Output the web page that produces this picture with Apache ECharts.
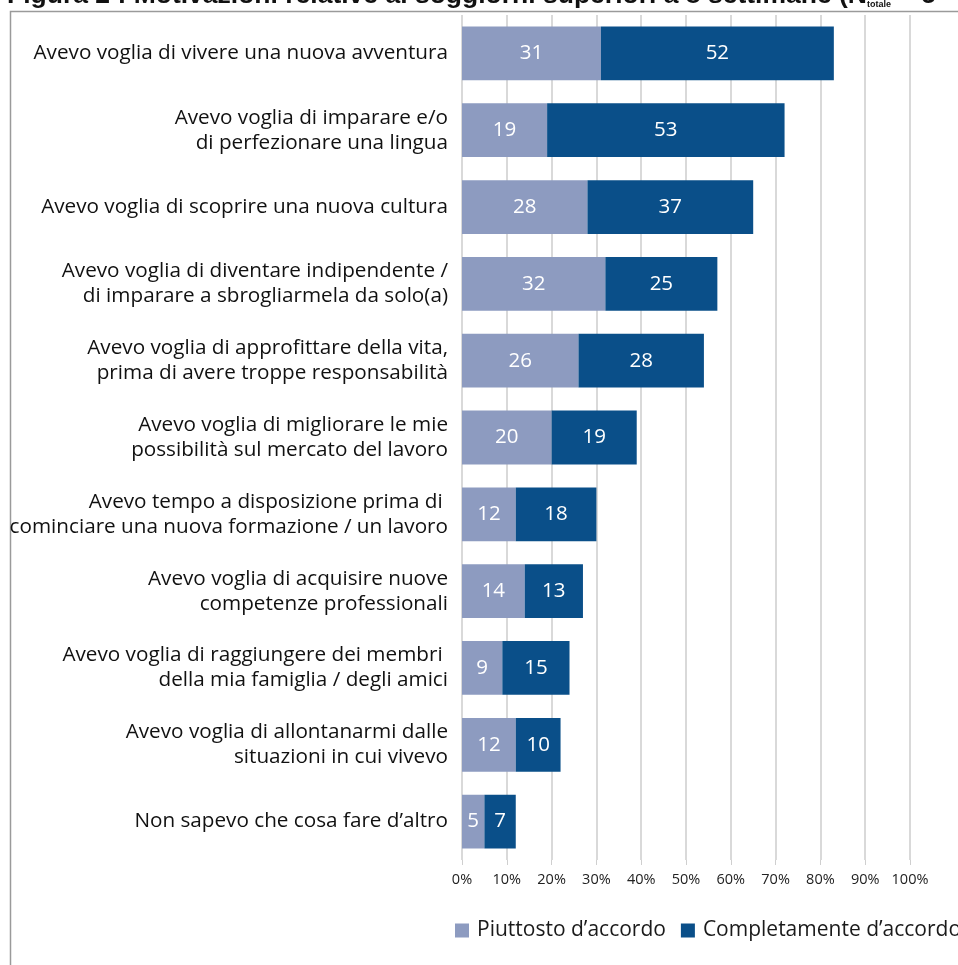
<!DOCTYPE html>
<html>
<head>
<meta charset="utf-8">
<script src="https://cdn.jsdelivr.net/npm/echarts@6/dist/echarts.min.js"></script>
<style>
  html, body { margin: 0; padding: 0; background: #fff; }
  #chart { width: 958px; height: 965px; }
</style>
</head>
<body>
<div id="chart"></div>
<script>
const categories = [
  "Avevo voglia di vivere una nuova avventura",
  "Avevo voglia di imparare e/o\ndi perfezionare una lingua",
  "Avevo voglia di scoprire una nuova cultura",
  "Avevo voglia di diventare indipendente /\ndi imparare a sbrogliarmela da solo(a)",
  "Avevo voglia di approfittare della vita,\nprima di avere troppe responsabilità",
  "Avevo voglia di migliorare le mie\npossibilità sul mercato del lavoro",
  "Avevo tempo a disposizione prima di \ncominciare una nuova formazione / un lavoro",
  "Avevo voglia di acquisire nuove\ncompetenze professionali",
  "Avevo voglia di raggiungere dei membri \ndella mia famiglia / degli amici",
  "Avevo voglia di allontanarmi dalle\nsituazioni in cui vivevo",
  "Non sapevo che cosa fare d’altro"
];
const piuttosto = [31, 19, 28, 32, 26, 20, 12, 14, 9, 12, 5];
const completamente = [52, 53, 37, 25, 28, 19, 18, 13, 15, 10, 7];
const xTicks = [0, 10, 20, 30, 40, 50, 60, 70, 80, 90, 100];

const font = "'Open Sans', 'Noto Sans', sans-serif";
const chart = echarts.init(document.getElementById("chart"));

const option = {
  animation: false,
  title: {
    text: "Figura 2 : Motivazioni relative ai soggiorni superiori a 8 settimane (N{s|totale} = 5",
    left: 7,
    top: -18,
    padding: 0,
    textStyle: {
      fontFamily: "'Liberation Sans', Arial, sans-serif",
      fontWeight: "bold",
      fontSize: 26.5,
      color: "#111",
      rich: {
        s: { fontSize: 9, fontWeight: "bold", color: "#111", verticalAlign: "bottom" }
      }
    }
  },
  graphic: [
    {
      type: "rect",
      shape: { x: 10.5, y: 11.5, width: 1000, height: 1000 },
      style: { fill: "none", stroke: "#9a9a9a", lineWidth: 1.5 },
      silent: true
    }
  ],
  legend: {
    type: "plain",
    orient: "horizontal",
    left: 455,
    top: 920,
    width: 700,
    padding: 0,
    itemWidth: 14,
    itemHeight: 14,
    itemGap: 15,
    icon: "rect",
    textStyle: { fontFamily: font, fontSize: 21, color: "#1a1a1a", padding: [0, 0, 0, 3] },
    data: ["Piuttosto d’accordo", "Completamente d’accordo"]
  },
  grid: {
    left: 462,
    right: 48,
    top: 15,
    bottom: 105,
    containLabel: false
  },
  xAxis: {
    type: "value",
    min: 0,
    max: 100,
    interval: 10,
    axisLine: { show: false },
    axisTick: { show: true, length: 5, lineStyle: { color: "#cfcfcf", width: 1 } },
    splitLine: { show: true, lineStyle: { color: "#d9d9d9", width: 2 } },
    axisLabel: {
      margin: 12,
      fontFamily: font,
      fontSize: 14.5,
      color: "#222",
      formatter: function (v) {
        return xTicks.indexOf(v) >= 0 ? v + "%" : "";
      }
    }
  },
  yAxis: {
    type: "category",
    inverse: true,
    data: categories,
    axisLine: { show: false },
    axisTick: { show: false },
    axisLabel: {
      margin: 14,
      fontFamily: font,
      fontSize: 20.7,
      lineHeight: 25,
      color: "#111",
      align: "right"
    }
  },
  series: [
    {
      name: "Piuttosto d’accordo",
      type: "bar",
      stack: "tot",
      barWidth: "70%",
      data: piuttosto,
      itemStyle: { color: "#8d9bc0" },
      label: {
        show: true,
        position: "inside",
        color: "#fff",
        fontFamily: font,
        fontSize: 20.5
      }
    },
    {
      name: "Completamente d’accordo",
      type: "bar",
      stack: "tot",
      barWidth: "70%",
      data: completamente,
      itemStyle: { color: "#0a4f89" },
      label: {
        show: true,
        position: "inside",
        color: "#fff",
        fontFamily: font,
        fontSize: 20.5
      }
    }
  ]
};

chart.setOption(option);
</script>
</body>
</html>
